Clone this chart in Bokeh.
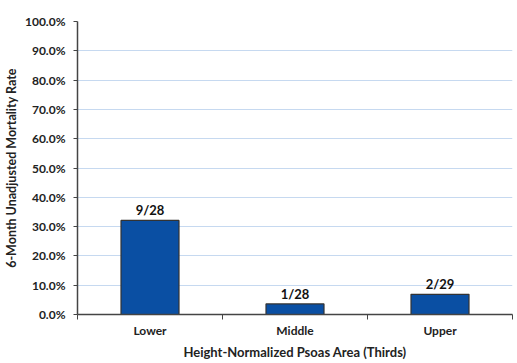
from bokeh.plotting import figure
from bokeh.models import Range1d, FixedTicker, PrintfTickFormatter, ColumnDataSource
from bokeh.core.properties import value
from bokeh.embed import file_html
from bokeh.resources import INLINE

categories = ["Lower", "Middle", "Upper"]
rates = [32.1, 3.6, 6.9]
count_labels = ["9/28", "1/28", "2/29"]
y_ticks = [0, 10, 20, 30, 40, 50, 60, 70, 80, 90, 100]

xs = [i + 0.5 for i in range(len(categories))]
src = ColumnDataSource(dict(x=xs, top=rates, lab=count_labels))

FONT = "Lato"
p = figure(width=515, height=362, output_backend="svg", toolbar_location=None,
           x_range=Range1d(0, len(categories)), y_range=Range1d(0, 100),
           min_border_left=73, min_border_right=3, min_border_top=21, min_border_bottom=48)
p.outline_line_color = None
p.background_fill_color = "white"

p.vbar(x="x", top="top", width=0.4, bottom=0, source=src,
       fill_color="#0a4fa3", line_color="#333333", line_width=1.2)
p.text(x="x", y="top", text="lab", source=src, text_align="center", text_baseline="bottom",
       y_offset=-2, text_font=value(FONT), text_font_size="13px", text_font_style="bold",
       text_color="#111111")

# x axis
p.xaxis.ticker = FixedTicker(ticks=xs, minor_ticks=list(range(len(categories) + 1)))
p.xaxis.major_label_overrides = {x: c for x, c in zip(xs, categories)}
p.xaxis.major_tick_line_color = None
p.xaxis.major_tick_out = 0
p.xaxis.major_tick_in = 0
p.xaxis.minor_tick_line_color = "#444444"
p.xaxis.minor_tick_out = 5
p.xaxis.minor_tick_in = 0
p.xaxis.axis_line_color = "#444444"
p.xaxis.axis_line_width = 1.5
p.xaxis.major_label_text_font = FONT
p.xaxis.major_label_text_font_size = "12px"
p.xaxis.major_label_text_font_style = "bold"
p.xaxis.major_label_text_color = "#222222"
p.xaxis.major_label_standoff = 3
p.xaxis.axis_label = "Height-Normalized Psoas Area (Thirds)"
p.xaxis.axis_label_text_font = FONT
p.xaxis.axis_label_text_font_size = "13px"
p.xaxis.axis_label_text_font_style = "bold"
p.xaxis.axis_label_text_color = "#222222"
p.xaxis.axis_label_standoff = 3

# y axis
p.yaxis.ticker = FixedTicker(ticks=y_ticks)
p.yaxis.formatter = PrintfTickFormatter(format="%.1f%%")
p.yaxis.minor_tick_line_color = None
p.yaxis.major_tick_line_color = "#444444"
p.yaxis.major_tick_out = 4
p.yaxis.major_tick_in = 0
p.yaxis.axis_line_color = "#444444"
p.yaxis.axis_line_width = 1.5
p.yaxis.major_label_text_font = FONT
p.yaxis.major_label_text_font_size = "12px"
p.yaxis.major_label_text_font_style = "bold"
p.yaxis.major_label_text_color = "#222222"
p.yaxis.major_label_standoff = 8
p.yaxis.axis_label = "6-Month Unadjusted Mortality Rate"
p.yaxis.axis_label_text_font = FONT
p.yaxis.axis_label_text_font_size = "12.5px"
p.yaxis.axis_label_text_font_style = "bold"
p.yaxis.axis_label_text_color = "#222222"
p.yaxis.axis_label_standoff = 3

p.xgrid.grid_line_color = None
p.ygrid.grid_line_color = "#c6d9f0"
p.ygrid.grid_line_width = 1

open("out.html", "w").write(file_html(p, INLINE))
